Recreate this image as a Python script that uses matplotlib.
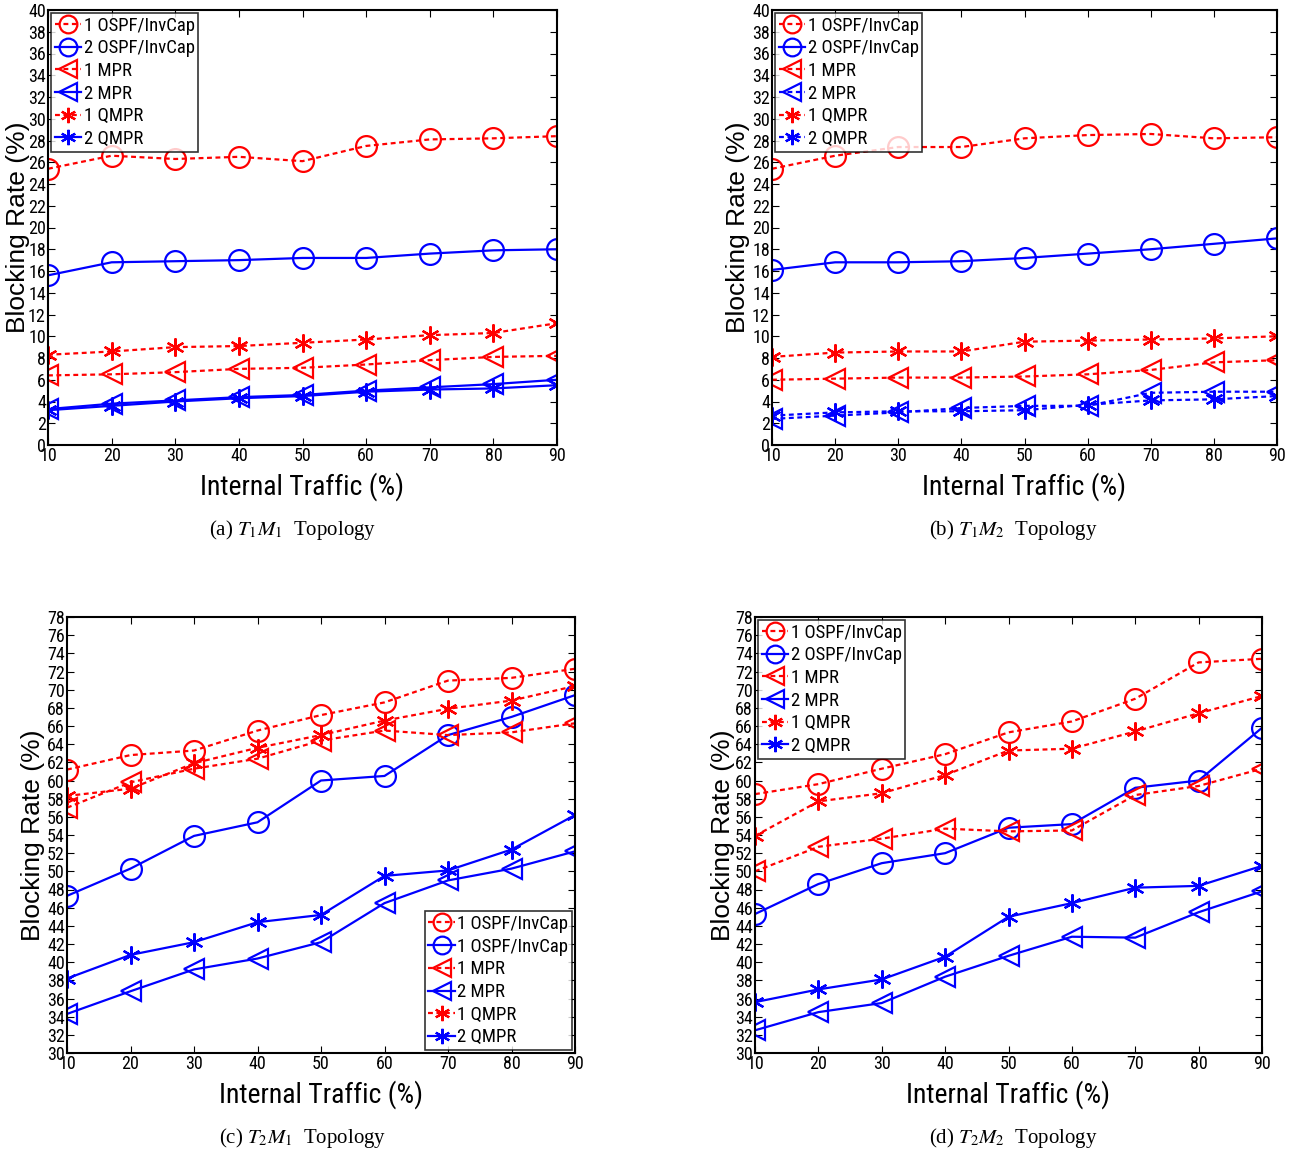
import matplotlib
matplotlib.use("Agg")
import matplotlib.pyplot as plt
from matplotlib import font_manager as fm
import numpy as np

# pick a narrow sans font if one is installed
names = {f.name for f in fm.fontManager.ttflist}
narrow = None
for cand in ['Liberation Sans Narrow', 'Roboto Condensed', 'Open Sans Condensed',
             'Nimbus Sans Narrow', 'Arial Narrow', 'Noto Sans Condensed']:
    if cand in names:
        narrow = cand
        break
stretch = 'normal'
if narrow is None:
    cond = [f for f in fm.fontManager.ttflist
            if ('Condensed' in f.fname or 'Narrow' in f.fname) and f.style == 'normal']
    if cond:
        narrow = cond[0].name
        stretch = cond[0].stretch
    else:
        narrow = 'Liberation Sans'

plt.rcParams['font.family'] = [narrow, 'Liberation Sans', 'DejaVu Sans']
plt.rcParams['font.stretch'] = stretch
plt.rcParams['mathtext.fontset'] = 'stix'

x = [10, 20, 30, 40, 50, 60, 70, 80, 90]

# (a) T1M1
a_ospf1 = [25.4, 26.6, 26.3, 26.5, 26.1, 27.5, 28.1, 28.2, 28.4]
a_ospf2 = [15.6, 16.8, 16.9, 17.0, 17.2, 17.2, 17.6, 17.9, 18.0]
a_mpr1 = [6.4, 6.5, 6.7, 7.0, 7.1, 7.4, 7.8, 8.1, 8.2]
a_mpr2 = [3.3, 3.8, 4.1, 4.4, 4.6, 5.0, 5.3, 5.6, 6.0]
a_qmpr1 = [8.3, 8.6, 9.0, 9.1, 9.4, 9.7, 10.1, 10.3, 11.2]
a_qmpr2 = [3.2, 3.6, 4.0, 4.3, 4.5, 4.9, 5.1, 5.2, 5.5]

# (b) T1M2
b_ospf1 = [25.4, 26.6, 27.4, 27.4, 28.2, 28.5, 28.6, 28.2, 28.3]
b_ospf2 = [16.1, 16.8, 16.8, 16.9, 17.2, 17.6, 18.0, 18.5, 19.0]
b_mpr1 = [6.0, 6.1, 6.2, 6.2, 6.3, 6.5, 6.9, 7.6, 7.8]
b_mpr2 = [2.4, 2.7, 3.0, 3.4, 3.6, 3.6, 4.8, 4.9, 4.9]
b_qmpr1 = [8.1, 8.5, 8.6, 8.6, 9.5, 9.6, 9.7, 9.8, 10.0]
b_qmpr2 = [2.7, 3.0, 3.1, 3.1, 3.2, 3.7, 4.1, 4.2, 4.5]

# (c) T2M1
c_ospf1 = [61.2, 62.8, 63.3, 65.5, 67.2, 68.6, 71.0, 71.3, 72.3]
c_ospf2 = [47.3, 50.3, 53.9, 55.4, 60.0, 60.5, 65.0, 67.0, 69.4]
c_mpr1 = [57.0, 59.8, 61.3, 62.4, 64.4, 65.5, 65.0, 65.3, 66.3]
c_mpr2 = [34.3, 36.8, 39.2, 40.4, 42.2, 46.5, 49.0, 50.3, 52.2]
c_qmpr1 = [58.3, 59.1, 61.9, 63.6, 65.0, 66.6, 67.9, 68.8, 70.4]
c_qmpr2 = [38.2, 40.8, 42.2, 44.4, 45.2, 49.5, 50.1, 52.4, 56.2]

# (d) T2M2
d_ospf1 = [58.5, 59.6, 61.3, 62.9, 65.3, 66.5, 69.0, 73.0, 73.4]
d_ospf2 = [45.3, 48.6, 50.9, 52.0, 54.8, 55.2, 59.2, 60.0, 65.8]
d_mpr1 = [50.0, 52.7, 53.6, 54.7, 54.4, 54.5, 58.4, 59.4, 61.3]
d_mpr2 = [32.5, 34.5, 35.5, 38.4, 40.7, 42.8, 42.7, 45.5, 47.8]
d_qmpr1 = [53.9, 57.7, 58.6, 60.6, 63.3, 63.5, 65.4, 67.4, 69.3]
d_qmpr2 = [35.6, 37.0, 38.1, 40.6, 45.0, 46.5, 48.2, 48.4, 50.6]

labels_std = ['1 OSPF/InvCap', '2 OSPF/InvCap', '1 MPR', '2 MPR', '1 QMPR', '2 QMPR']
labels_c = ['1 OSPF/InvCap', '1 OSPF/InvCap', '1 MPR', '2 MPR', '1 QMPR', '2 QMPR']
captions = ['(a) $T_1M_1$  Topology', '(b) $T_1M_2$  Topology',
            '(c) $T_2M_1$  Topology', '(d) $T_2M_2$  Topology']

DOT = (0, (2.2, 1.6))
RED = '#ff0000'
BLUE = '#0000ff'
ASTER = (6, 2, 0)

fig = plt.figure(figsize=(12.89, 11.52), dpi=100)

axpos = [
    [48/1289, 1-445/1152, (557-48)/1289, (445-10)/1152],
    [772/1289, 1-445/1152, (1277-772)/1289, (445-10)/1152],
    [67/1289, 1-1053/1152, (575-67)/1289, (1053-617)/1152],
    [755/1289, 1-1053/1152, (1262-755)/1289, (1053-617)/1152],
]
ylab_x = [-0.035, -0.044, -0.043, -0.039]

panels = [
    (a_ospf1, a_ospf2, a_mpr1, a_mpr2, a_qmpr1, a_qmpr2, labels_std, '-', '-', (0, 40), 'upper left'),
    (b_ospf1, b_ospf2, b_mpr1, b_mpr2, b_qmpr1, b_qmpr2, labels_std, DOT, DOT, (0, 40), 'upper left'),
    (c_ospf1, c_ospf2, c_mpr1, c_mpr2, c_qmpr1, c_qmpr2, labels_c, '-', '-', (30, 78), 'lower right'),
    (d_ospf1, d_ospf2, d_mpr1, d_mpr2, d_qmpr1, d_qmpr2, labels_std, '-', '-', (30, 78), 'upper left'),
]

cap_y = [1-530/1152, 1-530/1152, 1-1138/1152, 1-1138/1152]
cap_x = [293/1289, 1013/1289, 303/1289, 1013/1289]

ms = 15
lw = 1.6
for i, (o1, o2, m1, m2, q1, q2, labs, ls_m2, ls_q2, ylim, loc) in enumerate(panels):
    ax = fig.add_axes(axpos[i])
    ax.plot(x, o1, linestyle=DOT, color=RED, marker='o', mfc='none', ms=ms, mew=1.6, lw=lw, label=labs[0])
    ax.plot(x, o2, linestyle='-', color=BLUE, marker='o', mfc='none', ms=ms, mew=1.6, lw=lw, label=labs[1])
    ax.plot(x, m1, linestyle=DOT, color=RED, marker='<', mfc='none', ms=ms, mew=1.6, lw=lw, label=labs[2])
    ax.plot(x, m2, linestyle=ls_m2, color=BLUE, marker='<', mfc='none', ms=ms, mew=1.6, lw=lw, label=labs[3])
    ax.plot(x, q1, linestyle=DOT, color=RED, marker=ASTER, ms=13, mew=1.6, lw=lw, label=labs[4])
    ax.plot(x, q2, linestyle=ls_q2, color=BLUE, marker=ASTER, ms=13, mew=1.6, lw=lw, label=labs[5])
    ax.set_xlim(10, 90)
    ax.set_ylim(*ylim)
    ax.set_xticks(x)
    ax.set_yticks(np.arange(ylim[0], ylim[1] + 1, 2))
    ax.tick_params(direction='in', top=True, right=True, length=5, width=0.8,
                   labelsize=13, pad=1.5)
    for s in ax.spines.values():
        s.set_linewidth(1.5)
    ax.set_xlabel('Internal Traffic (%)', fontsize=20, labelpad=5)
    ax.set_ylabel('Blocking Rate (%)', fontsize=19,
                  family=['Liberation Sans', 'DejaVu Sans'], stretch='normal')
    ax.yaxis.set_label_coords(ylab_x[i], 0.5)
    leg = ax.legend(loc=loc, fontsize=13.5, frameon=True, fancybox=False,
                    edgecolor='black', handlelength=1.4, handletextpad=0.15,
                    borderpad=0.2, labelspacing=0.25, borderaxespad=0.15,
                    markerscale=0.85)
    leg.get_frame().set_linewidth(1.2)
    fig.text(cap_x[i], cap_y[i], captions[i], ha='center', va='center',
             fontsize=15, family=['Liberation Serif', 'DejaVu Serif'], stretch='normal')

fig.savefig('out.png', dpi=100)
